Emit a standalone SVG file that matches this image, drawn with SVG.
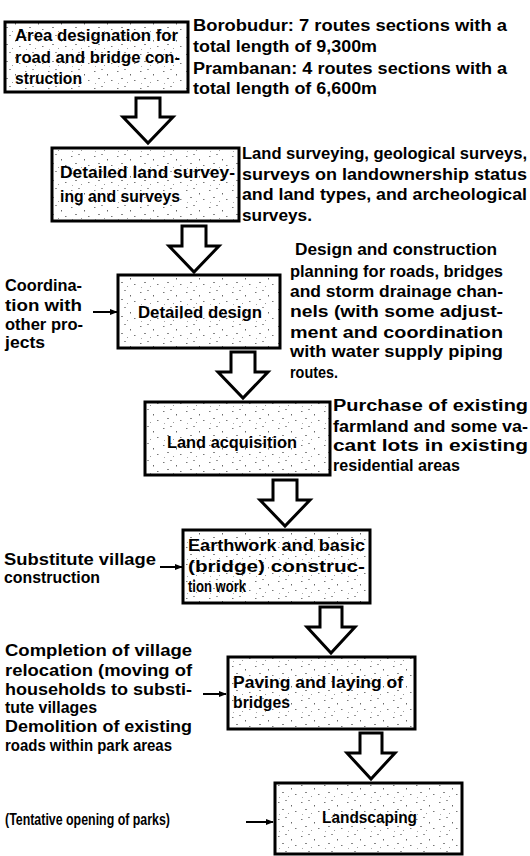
<svg xmlns="http://www.w3.org/2000/svg" width="530" height="856" viewBox="0 0 530 856">
<defs>
<pattern id="speck" width="23" height="17" patternUnits="userSpaceOnUse">
<rect width="23" height="17" fill="#ffffff"/>
<rect x="2" y="3" width="1.5" height="1" fill="#777"/>
<rect x="9" y="1" width="2" height="1" fill="#999"/>
<rect x="15" y="6" width="1" height="1.5" fill="#666"/>
<rect x="6" y="10" width="2" height="1" fill="#888"/>
<rect x="19" y="12" width="1.5" height="1" fill="#777"/>
<rect x="12" y="14" width="1" height="1" fill="#999"/>
<rect x="3" y="15" width="1" height="1" fill="#aaa"/>
</pattern>
<marker id="ah" viewBox="0 0 10 10" refX="9" refY="5" markerWidth="8" markerHeight="8" markerUnits="userSpaceOnUse" orient="auto">
<path d="M0,1 L10,5 L0,9 Z" fill="#000"/>
</marker>
</defs>
<style>
.box{fill:url(#speck);stroke:#000;stroke-width:3}
.blk{fill:#fff;stroke:#000;stroke-width:3;stroke-linejoin:miter}
.sm{stroke:#000;stroke-width:2;fill:none}
text{font-family:"Liberation Sans",Arial,sans-serif;font-size:16px;font-weight:bold;fill:#000}
</style>
<rect width="530" height="856" fill="#fff"/>

<g id="node-area">
<rect class="box" x="5" y="22" width="183" height="70"/>
<text x="15" y="41" textLength="163" lengthAdjust="spacingAndGlyphs">Area designation for</text>
<text x="15" y="63" textLength="165" lengthAdjust="spacingAndGlyphs">road and bridge con-</text>
<text x="15" y="84" textLength="67" lengthAdjust="spacingAndGlyphs">struction</text>
</g>
<g id="note-area">
<text x="193" y="31" textLength="314" lengthAdjust="spacingAndGlyphs">Borobudur: 7 routes sections with a</text>
<text x="193" y="52" textLength="184" lengthAdjust="spacingAndGlyphs">total length of 9,300m</text>
<text x="193" y="74" textLength="314" lengthAdjust="spacingAndGlyphs">Prambanan: 4 routes sections with a</text>
<text x="193" y="94" textLength="184" lengthAdjust="spacingAndGlyphs">total length of 6,600m</text>
</g>

<g id="node-survey">
<rect class="box" x="52" y="148" width="187" height="73"/>
<text x="60" y="178" textLength="175" lengthAdjust="spacingAndGlyphs">Detailed land survey-</text>
<text x="60" y="202" textLength="120" lengthAdjust="spacingAndGlyphs">ing and surveys</text>
</g>
<g id="note-survey">
<text x="242" y="159" textLength="285" lengthAdjust="spacingAndGlyphs">Land surveying, geological surveys,</text>
<text x="242" y="180" textLength="285" lengthAdjust="spacingAndGlyphs">surveys on landownership status</text>
<text x="242" y="200" textLength="285" lengthAdjust="spacingAndGlyphs">and land types, and archeological</text>
<text x="242" y="221" textLength="70" lengthAdjust="spacingAndGlyphs">surveys.</text>
</g>

<g id="node-design">
<rect class="box" x="118" y="275" width="162" height="73"/>
<text x="138" y="318" textLength="124" lengthAdjust="spacingAndGlyphs">Detailed design</text>
</g>
<g id="note-design">
<text x="295" y="255" textLength="202" lengthAdjust="spacingAndGlyphs">Design and construction</text>
<text x="290" y="277" textLength="213" lengthAdjust="spacingAndGlyphs">planning for roads, bridges</text>
<text x="290" y="297" textLength="213" lengthAdjust="spacingAndGlyphs">and storm drainage chan-</text>
<text x="290" y="317" textLength="213" lengthAdjust="spacingAndGlyphs">nels (with some adjust-</text>
<text x="290" y="338" textLength="213" lengthAdjust="spacingAndGlyphs">ment and coordination</text>
<text x="290" y="357" textLength="213" lengthAdjust="spacingAndGlyphs">with water supply piping</text>
<text x="290" y="378" textLength="48" lengthAdjust="spacingAndGlyphs">routes.</text>
</g>
<g id="note-coord">
<text x="5" y="291" textLength="77" lengthAdjust="spacingAndGlyphs">Coordina-</text>
<text x="5" y="311" textLength="77" lengthAdjust="spacingAndGlyphs">tion with</text>
<text x="5" y="330" textLength="78" lengthAdjust="spacingAndGlyphs">other pro-</text>
<text x="5" y="348" textLength="40" lengthAdjust="spacingAndGlyphs">jects</text>
</g>

<g id="node-land">
<rect class="box" x="145" y="402" width="185" height="73"/>
<text x="167" y="448" textLength="130" lengthAdjust="spacingAndGlyphs">Land acquisition</text>
</g>
<g id="note-land">
<text x="333" y="411" textLength="195" lengthAdjust="spacingAndGlyphs">Purchase of existing</text>
<text x="333" y="432" textLength="195" lengthAdjust="spacingAndGlyphs">farmland and some va-</text>
<text x="333" y="451" textLength="195" lengthAdjust="spacingAndGlyphs">cant lots in existing</text>
<text x="333" y="471" textLength="127" lengthAdjust="spacingAndGlyphs">residential areas</text>
</g>

<g id="node-earth">
<rect class="box" x="183" y="530" width="187" height="73"/>
<text x="188" y="551" textLength="177" lengthAdjust="spacingAndGlyphs">Earthwork and basic</text>
<text x="188" y="572" textLength="177" lengthAdjust="spacingAndGlyphs">(bridge) construc-</text>
<text x="188" y="592" textLength="58" lengthAdjust="spacingAndGlyphs">tion work</text>
</g>
<g id="note-earth">
<text x="4" y="565" textLength="152" lengthAdjust="spacingAndGlyphs">Substitute village</text>
<text x="4" y="583" textLength="96" lengthAdjust="spacingAndGlyphs">construction</text>
</g>

<g id="node-paving">
<rect class="box" x="228" y="657" width="187" height="72"/>
<text x="233" y="688" textLength="170" lengthAdjust="spacingAndGlyphs">Paving and laying of</text>
<text x="233" y="708" textLength="57" lengthAdjust="spacingAndGlyphs">bridges</text>
</g>
<g id="note-paving">
<text x="5" y="656" textLength="187" lengthAdjust="spacingAndGlyphs">Completion of village</text>
<text x="5" y="676" textLength="187" lengthAdjust="spacingAndGlyphs">relocation (moving of</text>
<text x="5" y="695" textLength="187" lengthAdjust="spacingAndGlyphs">households to substi-</text>
<text x="5" y="713" textLength="92" lengthAdjust="spacingAndGlyphs">tute villages</text>
<text x="5" y="732" textLength="187" lengthAdjust="spacingAndGlyphs">Demolition of existing</text>
<text x="5" y="751" textLength="167" lengthAdjust="spacingAndGlyphs">roads within park areas</text>
</g>

<g id="node-landscaping">
<rect class="box" x="275" y="783" width="187" height="71"/>
<text x="322" y="823" textLength="95" lengthAdjust="spacingAndGlyphs">Landscaping</text>
</g>
<g id="note-landscaping">
<text x="5" y="825" textLength="165" lengthAdjust="spacingAndGlyphs">(Tentative opening of parks)</text>
</g>

<g id="connectors">
<path class="blk" d="M136,98 L160,98 L160,117 L173,117 L148,143 L123,117 L136,117 Z"/>
<path class="blk" d="M182,226 L206,226 L206,246 L219,246 L194,272 L169,246 L182,246 Z"/>
<path class="blk" d="M231,352 L255,352 L255,372 L268,372 L243,398 L218,372 L231,372 Z"/>
<path class="blk" d="M273,480 L297,480 L297,500 L310,500 L285,526 L260,500 L273,500 Z"/>
<path class="blk" d="M320,607 L342,607 L342,627 L355,627 L331,653 L307,627 L320,627 Z"/>
<path class="blk" d="M360,733 L382,733 L382,753 L395,753 L371,779 L347,753 L360,753 Z"/>
<line class="sm" x1="93" y1="312" x2="117" y2="312" marker-end="url(#ah)"/>
<line class="sm" x1="160" y1="567" x2="182" y2="567" marker-end="url(#ah)"/>
<line class="sm" x1="203" y1="694" x2="226" y2="694" marker-end="url(#ah)"/>
<line class="sm" x1="246" y1="822" x2="273" y2="822" marker-end="url(#ah)"/>
</g>
</svg>
